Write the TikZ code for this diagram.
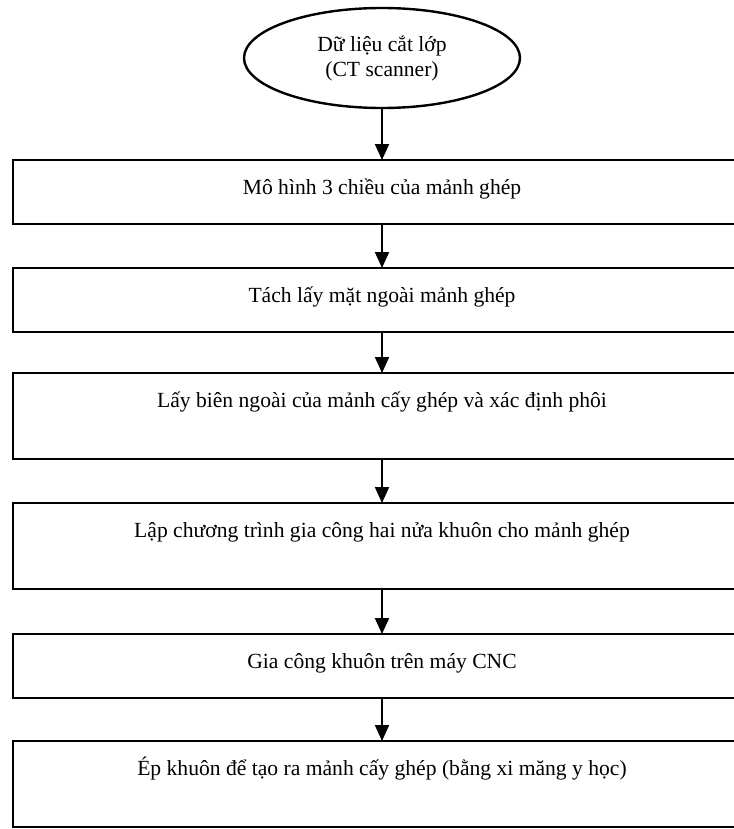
\documentclass[tikz,border=0pt]{standalone}
\usepackage{fontspec}
\setmainfont{Liberation Serif}
\usepackage{tikz}
\usetikzlibrary{arrows.meta, positioning, shapes.geometric}

\begin{document}
\begin{tikzpicture}[
  stepbox/.style={draw, line width=1.2pt, minimum width=369pt, inner ysep=0pt,
                  outer sep=0pt, anchor=north, align=center,
                  font=\fontsize{10.8}{12.5}\selectfont,
                  text height=17pt, text depth=15pt},
  tallbox/.style={stepbox, text depth=26pt},
  flow/.style={-{Triangle[width=7pt,length=8pt]}, line width=1pt}
]
  \useasboundingbox (0,0) rectangle (366.5pt,-414.5pt);

  \node[ellipse, draw, line width=1.2pt, outer sep=0pt, minimum width=138pt,
        minimum height=50pt, align=center,
        font=\fontsize{10.8}{12.5}\selectfont] (ct) at (191pt,-29pt)
    {Dữ liệu cắt lớp\\(CT scanner)};

  \node[stepbox] (model) at (191pt,-80pt) {Mô hình 3 chiều của mảnh ghép};

  \node[stepbox, below=22pt of model] (surface) {Tách lấy mặt ngoài mảnh ghép};

  \node[tallbox, below=20.5pt of surface] (contour)
    {Lấy biên ngoài của mảnh cấy ghép và xác định phôi};

  \node[tallbox, below=22pt of contour] (program)
    {Lập chương trình gia công hai nửa khuôn cho mảnh ghép};

  \node[stepbox, below=22.5pt of program] (cnc) {Gia công khuôn trên máy CNC};

  \node[tallbox, below=21.5pt of cnc] (mould)
    {Ép khuôn để tạo ra mảnh cấy ghép (bằng xi măng y học)};

  \draw[flow] (ct.south) -- (model.north);
  \draw[flow] (model.south) -- (surface.north);
  \draw[flow] (surface.south) -- (contour.north);
  \draw[flow] (contour.south) -- (program.north);
  \draw[flow] (program.south) -- (cnc.north);
  \draw[flow] (cnc.south) -- (mould.north);
\end{tikzpicture}
\end{document}
